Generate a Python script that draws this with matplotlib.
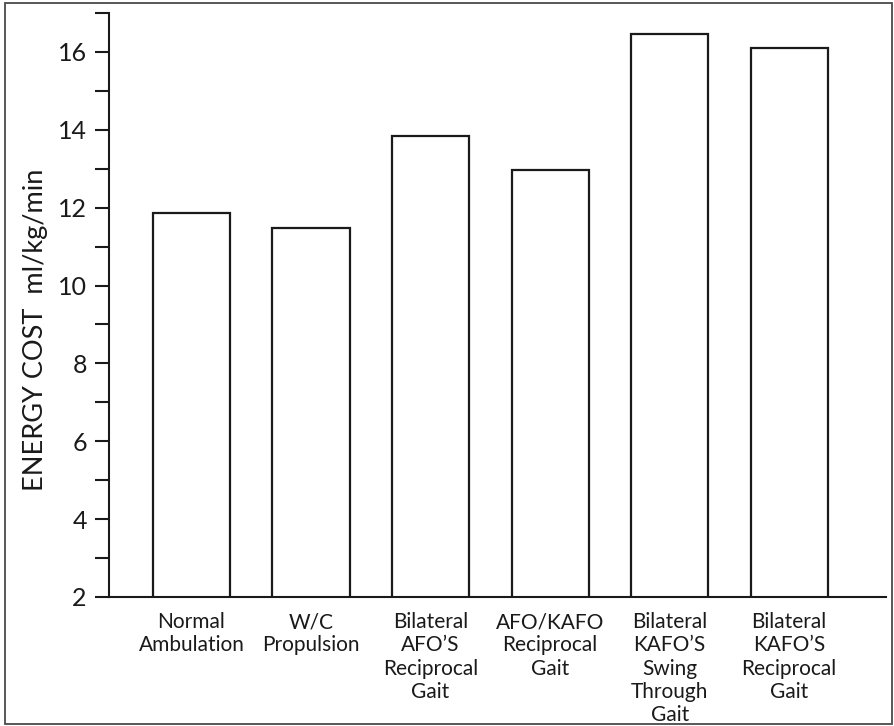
import matplotlib
matplotlib.use('Agg')
import matplotlib.pyplot as plt
from matplotlib.patches import Rectangle
from matplotlib.ticker import MultipleLocator

categories = [
    "Normal\nAmbulation",
    "W/C\nPropulsion",
    "Bilateral\nAFO\u2019S\nReciprocal\nGait",
    "AFO/KAFO\nReciprocal\nGait",
    "Bilateral\nKAFO\u2019S\nSwing\nThrough\nGait",
    "Bilateral\nKAFO\u2019S\nReciprocal\nGait",
]
energy_cost = [11.86, 11.48, 13.84, 12.97, 16.47, 16.09]

plt.rcParams['font.family'] = ['Lato', 'DejaVu Sans']
ink = '#1a1a1a'

fig = plt.figure(figsize=(8.94, 7.26), dpi=100)
ax = fig.add_axes([0.1219, 0.1777, 0.8692, 0.8044])

x = list(range(len(categories)))
ax.bar(x, energy_cost, width=0.645, color='white', edgecolor=ink, linewidth=1.6)

ax.set_xlim(-0.69, 5.81)
ax.set_ylim(2, 17)
ax.yaxis.set_major_locator(MultipleLocator(2))
ax.yaxis.set_minor_locator(MultipleLocator(1))
ax.set_yticks(range(2, 17, 2))

ax.spines['top'].set_visible(False)
ax.spines['right'].set_visible(False)
for side in ['left', 'bottom']:
    ax.spines[side].set_linewidth(1.5)
    ax.spines[side].set_color(ink)

ax.tick_params(axis='y', which='both', length=10, width=1.5, color=ink,
               labelsize=18, labelcolor=ink, pad=6)
ax.set_xticks(x)
ax.set_xticklabels(categories, fontsize=15, color=ink, linespacing=1.2)
ax.tick_params(axis='x', length=0, pad=11)

# y label sits a bit below the axis centre in the original
fig.text(36 / 894, 1 - 330 / 726, 'ENERGY COST  ml/kg/min', rotation=90,
         ha='center', va='center', fontsize=19.5, color=ink)

# scanned frame around the whole figure
fig.patches.append(Rectangle((0.006, 0.003), 0.992, 0.993, transform=fig.transFigure,
                             fill=False, edgecolor='#4a4a4a', linewidth=1.3))

plt.savefig('out.png', dpi=100, facecolor='white')
